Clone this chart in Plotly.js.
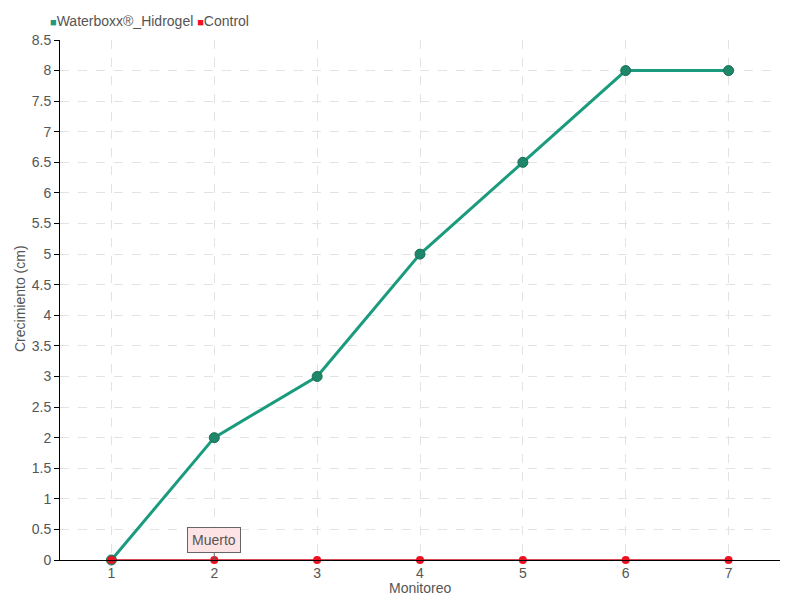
<!DOCTYPE html>
<html><head><meta charset="utf-8">
<script src="https://cdn.plot.ly/plotly-3.0.1.min.js"></script>
<style>body{margin:0}#c{width:800px;height:600px}</style>
</head><body><div id="c"></div>
<script>
var monitoreo = [1, 2, 3, 4, 5, 6, 7];
var waterboxx = [0, 2, 3, 5, 6.5, 8, 8];
var control = [0, 0, 0, 0, 0, 0, 0];
var yTicks = [0,0.5,1,1.5,2,2.5,3,3.5,4,4.5,5,5.5,6,6.5,7,7.5,8,8.5];
var yTickText = yTicks.map(function(v){return String(v);});
var seriesNames = ['Waterboxx®_Hidrogel', 'Control'];

var FONT = '"Liberation Sans Narrow", "Liberation Sans", Arial, sans-serif';
var green = '#1b9b7e', greenDark = '#1e8769', red = '#ee1122', redLine = '#cc0f1f';

var traces = [
  {x: monitoreo, y: waterboxx, type: 'scatter', mode: 'lines+markers', name: seriesNames[0], cliponaxis: false,
   line: {color: green, width: 3}, marker: {color: greenDark, size: 10, line: {color: '#1a6e55', width: 1}}},
  {x: monitoreo, y: control, type: 'scatter', mode: 'lines+markers', name: seriesNames[1], cliponaxis: false,
   line: {color: redLine, width: 1.5}, marker: {color: red, size: 8}}
];

var legendText = '<span style="color:' + green + ';font-size:11px">■</span>' + seriesNames[0] +
  ' <span style="color:' + red + ';font-size:11px">■</span>' + seriesNames[1];

var layout = {
  width: 800, height: 600,
  margin: {l: 60, r: 20, t: 40, b: 40},
  paper_bgcolor: '#fff', plot_bgcolor: '#fff',
  font: {family: FONT, color: '#555', size: 14},
  showlegend: false,
  xaxis: {range: [0.5, 7.5], tickvals: monitoreo, ticktext: monitoreo.map(String), ticks: '',
          showgrid: true, gridcolor: '#e3e3e3', griddash: 'dash', gridwidth: 1,
          showline: true, linecolor: '#000', linewidth: 1, zeroline: false,
          tickfont: {size: 14, color: '#555'}},
  yaxis: {range: [0, 8.5], tickvals: yTicks, ticktext: yTickText, ticks: 'outside', ticklen: 5, tickcolor: '#000',
          showgrid: true, gridcolor: '#e3e3e3', griddash: 'dash', gridwidth: 1,
          showline: true, linecolor: '#000', linewidth: 1, zeroline: false,
          tickfont: {size: 14, color: '#555'}},
  annotations: [
    {x: 2, y: 0, xref: 'x', yref: 'y', text: 'Muerto', showarrow: true, arrowhead: 0, arrowwidth: 1,
     arrowcolor: '#666', ax: 0, ay: -20, bgcolor: '#fde3e3', bordercolor: '#666', borderwidth: 1,
     borderpad: 4, font: {size: 14, color: '#555'}},
    {x: 48 / 800, y: 1 - 21 / 600, xref: 'paper', yref: 'paper', text: legendText, showarrow: false,
     xanchor: 'left', yanchor: 'middle', font: {size: 14, color: '#555'}},
    {x: 420 / 800, y: 1 - 588 / 600, xref: 'paper', yref: 'paper', text: 'Monitoreo', showarrow: false,
     xanchor: 'center', yanchor: 'middle', font: {size: 14, color: '#555'}},
    {x: 20 / 800, y: 1 - 299 / 600, xref: 'paper', yref: 'paper', text: 'Crecimiento (cm)', showarrow: false,
     textangle: -90, xanchor: 'center', yanchor: 'middle', font: {size: 14, color: '#555'}}
  ]
};
// annotations given in pixel fractions of the full page: convert to plot-area paper coordinates
[1, 2, 3].forEach(function(i){
  var a = layout.annotations[i];
  a.x = (a.x * 800 - 60) / 720;
  a.y = ((1 - a.y) * 600 - 560) / -520;
});

Plotly.newPlot('c', traces, layout, {displayModeBar: false});
</script></body></html>
